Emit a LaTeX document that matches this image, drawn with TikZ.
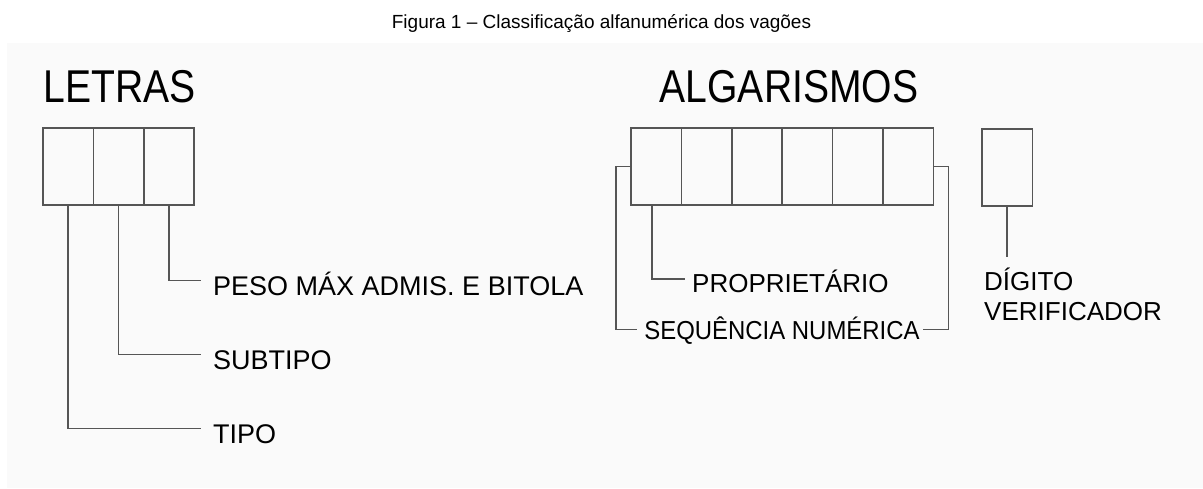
\documentclass[tikz,border=0pt]{standalone}
\usepackage{fontspec}
\setmainfont{Liberation Sans}
\newfontfamily\narrowfont[FakeStretch=0.85]{Liberation Sans}
\newfontfamily\seqfont[FakeStretch=0.92]{Liberation Sans}
\usetikzlibrary{positioning, calc}
\definecolor{cline}{HTML}{555555}
\definecolor{cback}{HTML}{FAFAFA}
\tikzset{
  every picture/.style={x=1pt, y=-1pt},
  cell/.style={draw=cline, line width=1.6pt, minimum width=50.4pt, minimum height=77pt, inner sep=0pt, outer sep=0pt, anchor=north west},
  link/.style={draw=cline, line width=1.5pt},
  head/.style={font=\narrowfont\fontsize{46}{46}\selectfont, inner sep=0pt, anchor=base},
  lab/.style={font=\fontsize{26}{30}\selectfont, inner sep=0pt},
  tag/.style={lab, text height=19pt, text depth=0pt, anchor=base west},
}

\begin{document}
\begin{tikzpicture}[
    ltag/.style={tag, font=\fontsize{27}{30}\selectfont}]
  \useasboundingbox (0,0) rectangle (1203,488);
  \fill[cback] (7,43) rectangle (1203,488);
  \node[font=\fontsize{19}{22}\selectfont, inner sep=0pt, anchor=base] (title) at (601.5,28)
    {Figura 1 – Classificação alfanumérica dos vagões};

  % ---- letras
  \node[head] (letras) at (120,102) {LETRAS};
  \foreach \i in {1,2,3}
    { \node[cell] (l\i) at ({43+50.4*(\i-1)},128) {}; }
  \node[ltag] (peso) at (213,295) {PESO MÁX ADMIS. E BITOLA};
  \node[ltag] (subtipo) at (213,369) {SUBTIPO};
  \node[ltag] (tipo) at (213,443) {TIPO};
  \draw[link] (l3.south) |- ([xshift=-12pt,yshift=5pt]peso.west);
  \draw[link] (l2.south) |- ([xshift=-12pt,yshift=5pt]subtipo.west);
  \draw[link] (l1.south) |- ([xshift=-12pt,yshift=5pt]tipo.west);

  % ---- algarismos
  \node[head] (algarismos) at (789,102) {ALGARISMOS};
  \foreach \i in {1,...,6}
    { \node[cell] (r\i) at ({631+50.4*(\i-1)},128) {}; }
  \node[tag] (prop) at (692,292) {PROPRIETÁRIO};
  \node[tag, anchor=base, font=\seqfont\fontsize{26}{30}\selectfont] (seq) at (782,339) {SEQUÊNCIA NUMÉRICA};
  \draw[link] ([xshift=-4pt]r1.south) |- ([xshift=-7pt,yshift=3.5pt]prop.west);
  \draw[link] (r1.west) -- ++(-15,0) |- ([xshift=-7pt]seq.west);
  \draw[link] (r6.east) -- ++(15,0) |- ([xshift=3pt]seq.east);

  % ---- digito
  \node[cell] (dig) at (982,129) {};
  \node[lab, align=left, anchor=north west] (verif) at (984,268) {DÍGITO\\VERIFICADOR};
  \draw[link] (dig.south) -- ($(dig.south |- verif.north)+(0,11pt)$);
\end{tikzpicture}
\end{document}
